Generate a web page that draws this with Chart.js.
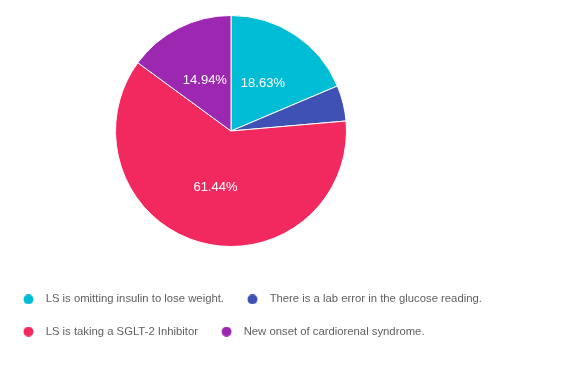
<!DOCTYPE html>
<html>
<head>
<meta charset="utf-8">
<script src="https://cdn.jsdelivr.net/npm/chart.js@4"></script>
<style>
  html, body { margin: 0; padding: 0; background: #fff; }
  #wrap { width: 576px; height: 372px; }
</style>
</head>
<body>
<div id="wrap"><canvas id="chart"></canvas></div>
<script>
// answer options shown in the legend
let labels = [
  'LS is omitting insulin to lose weight.',
  'There is a lab error in the glucose reading.',
  'LS is taking a SGLT-2 Inhibitor',
  'New onset of cardiorenal syndrome.'
]
// share of responses, in percent
let values = [18.63, 4.99, 61.44, 14.94]
// slice colours
let colors = ['#00bcd4', '#3f51b5', '#f2295f', '#9c27b0']

let fontFamily = '"Liberation Sans", Arial, sans-serif'

// small canvas used as legend marker: round dot with some room on the left
function makeDot(color) {
  let c = document.createElement('canvas')
  c.width = 19
  c.height = 10
  let g = c.getContext('2d')
  g.fillStyle = color
  g.beginPath()
  g.arc(7.5, 5, 5, 0, Math.PI * 2)
  g.fill()
  return c
}
let dots = colors.map(makeDot)

// put the pie where it sits in the picture
let placePie = {
  id: 'placePie',
  afterLayout(chart) {
    chart.chartArea = { left: 115, top: 15, right: 347, bottom: 247, width: 232, height: 232 }
  }
}

// percentage text inside each big enough slice
let sliceText = {
  id: 'sliceText',
  afterDatasetsDraw(chart) {
    let ctx = chart.ctx
    let meta = chart.getDatasetMeta(0)
    let data = chart.data.datasets[0].data
    let total = data.reduce((a, b) => a + b, 0)
    ctx.save()
    ctx.fillStyle = '#ffffff'
    ctx.font = '13px ' + fontFamily
    ctx.textAlign = 'center'
    ctx.textBaseline = 'middle'
    meta.data.forEach((arc, i) => {
      let pct = data[i] / total * 100
      if (pct < 5) return
      let p = arc.getCenterPoint()
      ctx.fillText(pct.toFixed(2) + '%', p.x, p.y + 1)
    })
    ctx.restore()
  }
}

new Chart(document.getElementById('chart'), {
  type: 'pie',
  data: {
    labels: labels,
    datasets: [{
      data: values,
      backgroundColor: colors,
      borderColor: '#ffffff',
      borderWidth: 1,
      clip: false
    }]
  },
  options: {
    responsive: true,
    maintainAspectRatio: false,
    animation: false,
    layout: { padding: { left: 0, right: 0, top: 0, bottom: 24.7 } },
    plugins: {
      tooltip: { enabled: false },
      legend: {
        position: 'bottom',
        align: 'start',
        labels: {
          usePointStyle: true,
          pointStyleWidth: 19,
          padding: 21,
          color: '#5f5f5f',
          font: { size: 11.3, family: fontFamily },
          generateLabels(chart) {
            let items = Chart.overrides.pie.plugins.legend.labels.generateLabels(chart)
            items.forEach((it, i) => { it.pointStyle = dots[i] })
            return items
          }
        }
      }
    }
  },
  plugins: [placePie, sliceText]
})
</script>
</body>
</html>
